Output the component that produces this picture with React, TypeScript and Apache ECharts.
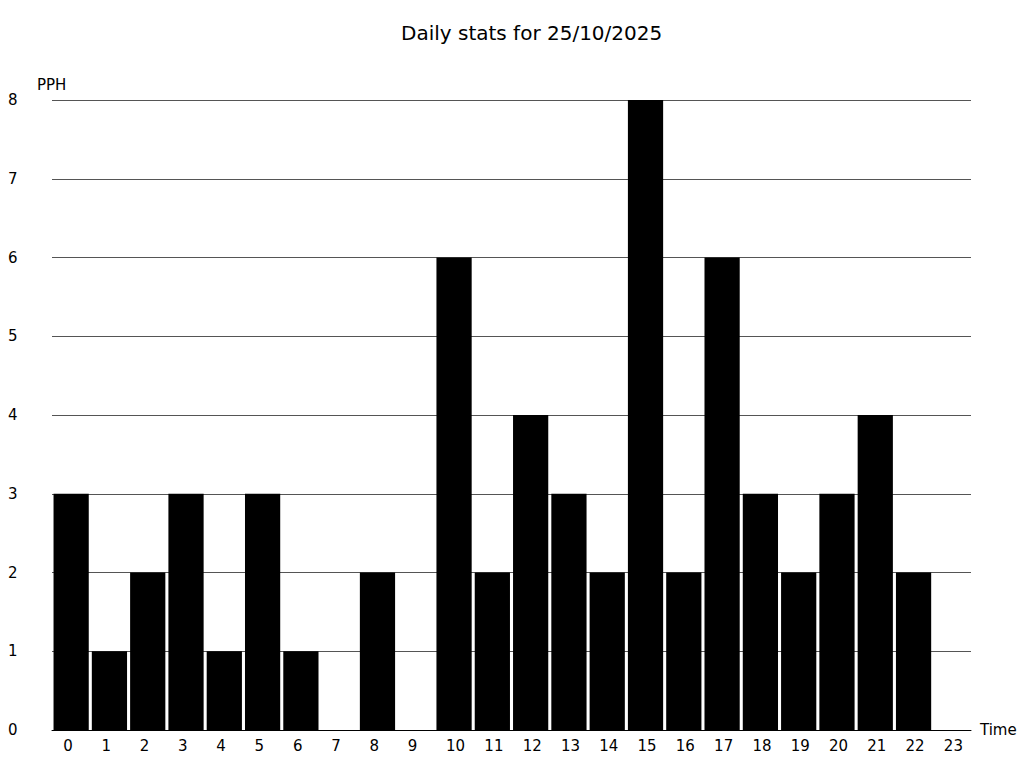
import React, { useEffect, useRef } from "react";
import * as echarts from "echarts";

const hours = ["0","1","2","3","4","5","6","7","8","9","10","11","12","13","14","15","16","17","18","19","20","21","22","23"];
const pph = [3, 1, 2, 3, 1, 3, 1, 0, 2, 0, 6, 2, 4, 3, 2, 8, 2, 6, 3, 2, 3, 4, 2, 0];
const titleText = "Daily stats for 25/10/2025";
const yName = "PPH";
const xName = "Time";

export default function App() {
  const ref = useRef<HTMLDivElement>(null);
  useEffect(() => {
    const chart = echarts.init(ref.current!, null, { renderer: "svg" });
    const font = "DejaVu Sans";
    chart.setOption({
      animation: false,
      backgroundColor: "#fff",
      textStyle: { fontFamily: font, color: "#000" },
      title: {
        text: titleText,
        left: 396,
        top: 18,
        textStyle: { fontFamily: font, fontSize: 20, fontWeight: "normal", color: "#000" },
      },
      grid: { left: 52, right: 53, top: 100, bottom: 38, containLabel: false },
      xAxis: {
        type: "category",
        data: hours,
        name: xName,
        nameLocation: "end",
        nameGap: 9,
        nameTextStyle: { fontFamily: font, fontSize: 15, color: "#000" },
        axisLine: { show: true, lineStyle: { color: "#000", width: 1 } },
        axisTick: { show: false },
        axisLabel: { fontFamily: font, fontSize: 15, color: "#000", margin: 8, align: "left", padding: [0, 0, 0, -8] },
        splitLine: { show: false },
      },
      yAxis: {
        type: "value",
        min: 0,
        max: 8,
        interval: 1,
        name: yName,
        nameLocation: "end",
        nameGap: 8,
        nameTextStyle: { fontFamily: font, fontSize: 15, color: "#000", align: "left", padding: [0, 0, 0, -15] },
        axisLine: { show: false },
        axisTick: { show: false },
        axisLabel: { fontFamily: font, fontSize: 15, color: "#000", margin: 44, align: "left" },
        splitLine: { show: true, lineStyle: { color: "#555", width: 1 } },
      },
      series: [
        {
          type: "bar",
          data: pph,
          barCategoryGap: "8%",
          itemStyle: { color: "#000" },
        },
      ],
    });
    return () => chart.dispose();
  }, []);
  return <div ref={ref} style={{ position: "absolute", left: 0, top: 0, width: 1024, height: 768 }} />;
}
